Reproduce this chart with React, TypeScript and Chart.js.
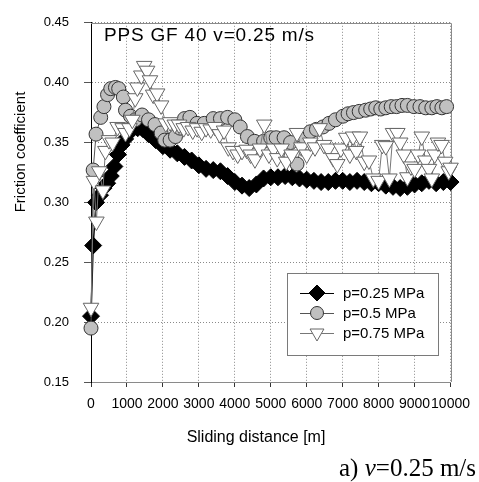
import React, { useEffect, useRef } from 'react';
import { Chart, registerables } from 'chart.js';

Chart.register(...registerables);

// ---- Data ----
const seriesLabels = ['p=0.25 MPa', 'p=0.5 MPa', 'p=0.75 MPa'];

const dist025 = [0, 60, 140, 250, 350, 450, 550, 650, 750, 850, 950, 1050, 1150, 1300, 1450, 1600, 1800, 2000,
  2200, 2400, 2600, 2800, 3000, 3200, 3400, 3600, 3800, 4000, 4200, 4400, 4600, 4800, 5000, 5200, 5400, 5600,
  5800, 6000, 6200, 6400, 6600, 6800, 7000, 7200, 7400, 7600, 7800, 8000, 8200, 8400, 8600, 8800, 9000, 9200,
  9400, 9600, 9800, 10000];
const mu025 = [0.205, 0.264, 0.300, 0.306, 0.312, 0.316, 0.322, 0.330, 0.340, 0.348, 0.353, 0.358, 0.361, 0.362,
  0.361, 0.357, 0.352, 0.347, 0.344, 0.341, 0.338, 0.335, 0.331, 0.328, 0.327, 0.326, 0.322, 0.317, 0.314, 0.312,
  0.315, 0.320, 0.321, 0.321, 0.322, 0.321, 0.320, 0.319, 0.318, 0.317, 0.317, 0.318, 0.318, 0.317, 0.318, 0.317,
  0.316, 0.316, 0.314, 0.313, 0.312, 0.313, 0.315, 0.316, 0.318, 0.316, 0.317, 0.317];

const dist05 = [0, 60, 140, 270, 360, 460, 550, 680, 770, 900, 960, 1100, 1230, 1420, 1600, 1780, 1950, 2050, 2200,
  2350, 2480, 2600, 2750, 2950, 3150, 3400, 3600, 3800, 4000, 4150, 4350, 4550, 4800, 5000, 5150, 5370, 5550, 5730,
  5900, 6100, 6270, 6450, 6620, 6800, 7010, 7150, 7300, 7460, 7640, 7780, 7920, 8060, 8200, 8350, 8500, 8650, 8800,
  8980, 9150, 9310, 9480, 9620, 9760, 9890];
const mu05 = [0.195, 0.327, 0.357, 0.371, 0.380, 0.390, 0.395, 0.396, 0.395, 0.388, 0.377, 0.372, 0.369, 0.373,
  0.369, 0.365, 0.358, 0.352, 0.352, 0.355, 0.362, 0.370, 0.371, 0.366, 0.366, 0.370, 0.370, 0.371, 0.369, 0.363,
  0.355, 0.351, 0.351, 0.354, 0.354, 0.354, 0.350, 0.332, 0.355, 0.359, 0.361, 0.363, 0.366, 0.369, 0.372, 0.374,
  0.375, 0.376, 0.377, 0.378, 0.379, 0.378, 0.379, 0.380, 0.380, 0.381, 0.381, 0.380, 0.380, 0.379, 0.379, 0.380,
  0.379, 0.380];

const dist075 = [0, 80, 150, 230, 330, 400, 500, 600, 740, 880, 960, 1070, 1150, 1230, 1290, 1400, 1480, 1560, 1640,
  1730, 1840, 1950, 2080, 2200, 2330, 2450, 2580, 2700, 2830, 2950, 3080, 3200, 3330, 3450, 3580, 3700, 3820, 3950,
  4080, 4200, 4330, 4440, 4560, 4700, 4820, 4950, 5080, 5180, 5300, 5430, 5580, 5730, 5850, 6000, 6100, 6230, 6360,
  6480, 6600, 6740, 6850, 6950, 7100, 7200, 7290, 7380, 7480, 7600, 7730, 7850, 8000, 8100, 8200, 8300, 8400, 8520,
  8600, 8700, 8800, 8900, 9000, 9100, 9200, 9300, 9400, 9480, 9560, 9650, 9750, 9850, 9950, 10000];
const mu075 = [0.212, 0.318, 0.284, 0.326, 0.310, 0.343, 0.352, 0.350, 0.363, 0.362, 0.358, 0.362, 0.369, 0.387,
  0.396, 0.406, 0.414, 0.410, 0.402, 0.390, 0.391, 0.381, 0.366, 0.367, 0.365, 0.365, 0.362, 0.363, 0.360, 0.362,
  0.359, 0.362, 0.361, 0.363, 0.357, 0.360, 0.346, 0.343, 0.340, 0.343, 0.344, 0.340, 0.336, 0.345, 0.365, 0.340,
  0.345, 0.337, 0.345, 0.334, 0.340, 0.358, 0.346, 0.340, 0.350, 0.346, 0.362, 0.348, 0.345, 0.337, 0.332, 0.345,
  0.354, 0.340, 0.355, 0.343, 0.355, 0.334, 0.335, 0.320, 0.318, 0.348, 0.347, 0.320, 0.358, 0.358, 0.350, 0.340,
  0.321, 0.330, 0.328, 0.340, 0.355, 0.335, 0.328, 0.320, 0.340, 0.350, 0.348, 0.334, 0.326, 0.329];

const yTickMin = 0.15;
const yTickMax = 0.45;
const yTickStep = 0.05;
const xTickMin = 0;
const xTickMax = 10000;
const xTickStep = 1000;

const chartTitle = 'PPS GF 40 v=0.25 m/s';
const xTitle = 'Sliding distance [m]';
const yTitle = 'Friction coefficient';
const captionPrefix = 'a) ';
const captionItalic = 'v';
const captionRest = '=0.25 m/s';

const SANS = '"Liberation Sans", Arial, sans-serif';
const SERIF = '"Liberation Serif", "Times New Roman", serif';

function toPoints(xs: number[], ys: number[]) {
  return xs.map((x, i) => ({ x, y: ys[i] }));
}

const framePlugin = {
  id: 'frameAndTexts',
  beforeDatasetsDraw(chart: any) {
    const { ctx, chartArea: a } = chart;
    ctx.save();
    ctx.strokeStyle = '#8a8a8a';
    ctx.lineWidth = 1;
    ctx.beginPath();
    ctx.moveTo(Math.round(a.left), Math.round(a.top) + 0.5);
    ctx.lineTo(Math.round(a.right) + 0.5, Math.round(a.top) + 0.5);
    ctx.lineTo(Math.round(a.right) + 0.5, Math.round(a.bottom));
    ctx.stroke();

    ctx.fillStyle = '#000';
    ctx.font = `19px ${SANS}`;
    (ctx as any).letterSpacing = '0.8px';
    ctx.textAlign = 'left';
    ctx.textBaseline = 'middle';
    ctx.fillText(chartTitle, 104, 36);
    ctx.restore();
  },
  afterDraw(chart: any) {
    const { ctx } = chart;
    ctx.save();
    // legend box
    const bx = 287, by = 273, bw = 151, bh = 82;
    ctx.fillStyle = '#fff';
    ctx.fillRect(bx, by, bw, bh);
    ctx.strokeStyle = '#7a7a7a';
    ctx.lineWidth = 1;
    ctx.strokeRect(bx + 0.5, by + 0.5, bw, bh);
    const rows = [293, 313, 333];
    const styles = [
      { line: '#000', fill: '#000', stroke: '#000', shape: 'diamond' },
      { line: '#555', fill: '#c0c0c0', stroke: '#333', shape: 'circle' },
      { line: '#777', fill: '#fff', stroke: '#666', shape: 'tri' },
    ];
    rows.forEach((ry, i) => {
      const s = styles[i];
      ctx.strokeStyle = s.line;
      ctx.lineWidth = 1;
      ctx.beginPath();
      ctx.moveTo(300, ry + 0.5);
      ctx.lineTo(334, ry + 0.5);
      ctx.stroke();
      const cx = 317;
      ctx.fillStyle = s.fill;
      ctx.strokeStyle = s.stroke;
      ctx.beginPath();
      if (s.shape === 'diamond') {
        const r = 8;
        ctx.moveTo(cx, ry - r); ctx.lineTo(cx + r, ry); ctx.lineTo(cx, ry + r); ctx.lineTo(cx - r, ry); ctx.closePath();
      } else if (s.shape === 'circle') {
        ctx.arc(cx, ry, 6.5, 0, Math.PI * 2);
      } else {
        const r = 8;
        ctx.moveTo(cx, ry + r);
        ctx.lineTo(cx - r * 0.866, ry - r / 2);
        ctx.lineTo(cx + r * 0.866, ry - r / 2);
        ctx.closePath();
      }
      ctx.fill();
      ctx.stroke();
      ctx.fillStyle = '#000';
      ctx.font = `15px ${SANS}`;
      ctx.textAlign = 'left';
      ctx.textBaseline = 'middle';
      ctx.fillText(seriesLabels[i], 343, ry + 1);
    });

    // axis titles
    ctx.fillStyle = '#000';
    ctx.font = `16px ${SANS}`;
    ctx.textAlign = 'center';
    ctx.textBaseline = 'middle';
    ctx.fillText(xTitle, 256, 438);
    ctx.save();
    ctx.translate(21, 152);
    ctx.rotate(-Math.PI / 2);
    ctx.font = `15px ${SANS}`;
    ctx.fillText(yTitle, 0, 0);
    ctx.restore();

    // caption
    ctx.textBaseline = 'alphabetic';
    ctx.textAlign = 'left';
    const fontN = `25px ${SERIF}`;
    const fontI = `italic 25px ${SERIF}`;
    ctx.font = fontN;
    const w1 = ctx.measureText(captionPrefix).width;
    const w3 = ctx.measureText(captionRest).width;
    ctx.font = fontI;
    const w2 = ctx.measureText(captionItalic).width;
    let x = 476 - (w1 + w2 + w3);
    const base = 476;
    ctx.font = fontN;
    ctx.fillText(captionPrefix, x, base);
    x += w1;
    ctx.font = fontI;
    ctx.fillText(captionItalic, x, base);
    x += w2;
    ctx.font = fontN;
    ctx.fillText(captionRest, x, base);
    ctx.restore();
  },
};

export default function App() {
  const ref = useRef<HTMLCanvasElement>(null);
  useEffect(() => {
    if (!ref.current) return;
    Chart.defaults.font.family = SANS;
    const chart = new Chart(ref.current, {
      type: 'line',
      data: {
        datasets: [
          {
            label: seriesLabels[0],
            data: toPoints(dist025, mu025),
            borderColor: '#000',
            borderWidth: 1.5,
            backgroundColor: '#000',
            pointStyle: 'rectRot',
            pointRadius: 8.5,
            pointBorderWidth: 1,
            pointBackgroundColor: '#000',
            pointBorderColor: '#000',
            order: 3,
            clip: false,
          } as any,
          {
            label: seriesLabels[1],
            data: toPoints(dist05, mu05),
            borderColor: '#555',
            borderWidth: 1,
            pointStyle: 'circle',
            pointRadius: 7,
            pointBorderWidth: 1,
            pointBackgroundColor: '#c0c0c0',
            pointBorderColor: '#333',
            order: 2,
            clip: false,
          } as any,
          {
            label: seriesLabels[2],
            data: toPoints(dist075, mu075),
            borderColor: '#777',
            borderWidth: 1,
            pointStyle: 'triangle',
            pointRotation: 180,
            pointRadius: 9,
            pointBorderWidth: 1,
            pointBackgroundColor: '#fff',
            pointBorderColor: '#666',
            order: 1,
            clip: false,
          } as any,
        ],
      },
      options: {
        responsive: false,
        animation: false,
        devicePixelRatio: 1,
        layout: { padding: { left: 0, right: 24, top: 16, bottom: 0 } },
        plugins: {
          legend: { display: false },
          tooltip: { enabled: false },
          title: { display: false },
        },
        elements: { line: { tension: 0 } },
        scales: {
          x: {
            type: 'linear',
            min: xTickMin,
            max: xTickMax,
            ticks: {
              stepSize: xTickStep,
              color: '#000',
              font: { size: 14, family: SANS },
              padding: 9,
              maxRotation: 0,
              autoSkip: false,
              callback: (v: any) => String(v),
            },
            grid: { color: '#8a8a8a', tickColor: '#333', tickLength: 5, lineWidth: 1 },
            border: { color: '#8a8a8a', dash: [1, 2], width: 1 },
            afterFit: (s: any) => { s.height = 100; },
          },
          y: {
            type: 'linear',
            min: yTickMin,
            max: yTickMax,
            ticks: {
              stepSize: yTickStep,
              color: '#000',
              font: { size: 13, family: SANS },
              padding: 15,
              callback: (v: any) => Number(v).toFixed(2),
            },
            grid: { color: '#8a8a8a', tickColor: '#555', tickLength: 7, lineWidth: 1 },
            border: { color: '#000', dash: [1, 2], width: 1 },
            afterFit: (s: any) => { s.width = 91; },
          },
        },
      },
      plugins: [framePlugin],
    });
    return () => chart.destroy();
  }, []);
  return (
    <div style={{ position: 'absolute', left: 0, top: 0, width: 479, height: 482, background: '#fff' }}>
      <canvas ref={ref} width={479} height={482} style={{ display: 'block', width: 479, height: 482 }} />
    </div>
  );
}
